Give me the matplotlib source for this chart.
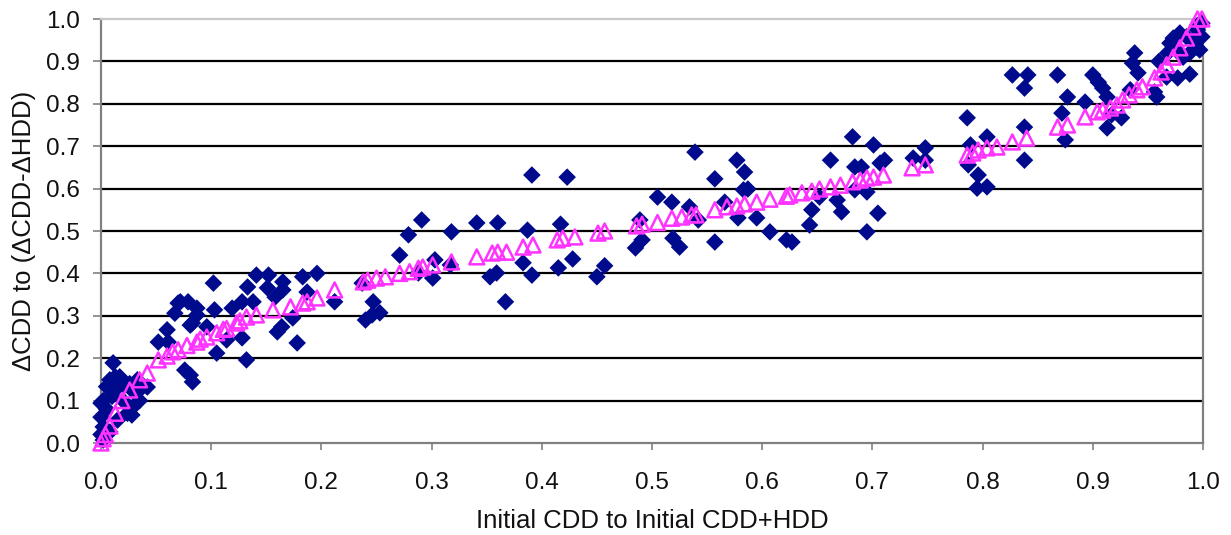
import matplotlib
matplotlib.use("Agg")
import matplotlib.pyplot as plt

# Diamonds (observed)
dia_x = [0.0, 0.002, 0.005, 0.008, 0.011, 0.013, 0.013, 0.017, 0.02, 0.026, 0.033, 0.035, 0.035, 0.029,
         0.024, 0.028, 0.015, 0.008, 0.002, 0.0, 0.002, 0.042, 0.0, 0.005, 0.01, 0.02, 0.03,
         0.052, 0.061, 0.06, 0.067, 0.07, 0.072, 0.079, 0.076, 0.081, 0.083, 0.087, 0.081, 0.083, 0.087,
         0.096, 0.102, 0.103, 0.105, 0.114, 0.119, 0.128, 0.128, 0.132, 0.133, 0.138, 0.141, 0.152, 0.151,
         0.158, 0.165, 0.165, 0.16, 0.164, 0.174, 0.178, 0.183, 0.196, 0.187, 0.212, 0.237, 0.24, 0.247,
         0.246, 0.253, 0.271, 0.279, 0.291, 0.288, 0.303, 0.301, 0.317, 0.318, 0.341, 0.36, 0.353, 0.359,
         0.367, 0.387, 0.383, 0.391, 0.391, 0.415, 0.417, 0.423, 0.428, 0.45, 0.457, 0.485, 0.491, 0.489,
         0.505, 0.518, 0.519, 0.525, 0.534, 0.539, 0.542, 0.557, 0.557, 0.566, 0.577, 0.584, 0.583, 0.587,
         0.578, 0.595, 0.607, 0.622, 0.627, 0.645, 0.643, 0.652, 0.662, 0.668, 0.672, 0.682, 0.684, 0.69,
         0.684, 0.695, 0.695, 0.701, 0.705, 0.707, 0.711, 0.737, 0.748, 0.748, 0.786, 0.787, 0.789, 0.796,
         0.795, 0.804, 0.804, 0.827, 0.841, 0.838, 0.838, 0.838, 0.868, 0.877, 0.872, 0.875, 0.893, 0.9,
         0.905, 0.909, 0.913, 0.913, 0.917, 0.926, 0.938, 0.936, 0.941, 0.934, 0.956, 0.958, 0.977, 0.967,
         0.97, 0.973, 0.979, 0.985, 0.991, 0.994, 0.997, 0.999, 0.995, 0.988, 0.982, 0.976, 0.968, 0.988,
         0.995, 0.999, 0.96]
dia_y = [0.094, 0.10, 0.133, 0.149, 0.189, 0.156, 0.125, 0.156, 0.14, 0.14, 0.149, 0.125, 0.10, 0.085,
         0.07, 0.066, 0.054, 0.026, 0.038, 0.061, 0.007, 0.132, 0.02, 0.08, 0.11, 0.10, 0.12,
         0.238, 0.238, 0.267, 0.306, 0.33, 0.333, 0.333, 0.172, 0.16, 0.144, 0.318, 0.278, 0.283, 0.302,
         0.274, 0.377, 0.314, 0.212, 0.243, 0.318, 0.248, 0.333, 0.196, 0.368, 0.333, 0.396, 0.396, 0.366,
         0.344, 0.38, 0.361, 0.262, 0.274, 0.295, 0.236, 0.392, 0.40, 0.356, 0.333, 0.377, 0.29, 0.333,
         0.302, 0.307, 0.443, 0.491, 0.526, 0.401, 0.432, 0.389, 0.42, 0.498, 0.519, 0.519, 0.392, 0.401,
         0.333, 0.502, 0.425, 0.396, 0.632, 0.413, 0.516, 0.627, 0.434, 0.392, 0.418, 0.46, 0.479, 0.526,
         0.58, 0.568, 0.483, 0.462, 0.557, 0.686, 0.526, 0.623, 0.474, 0.568, 0.667, 0.639, 0.597, 0.599,
         0.531, 0.531, 0.498, 0.479, 0.474, 0.55, 0.514, 0.58, 0.667, 0.573, 0.545, 0.722, 0.651, 0.651,
         0.597, 0.592, 0.498, 0.703, 0.542, 0.66, 0.667, 0.672, 0.696, 0.667, 0.767, 0.656, 0.703, 0.632,
         0.601, 0.722, 0.604, 0.868, 0.868, 0.837, 0.745, 0.667, 0.868, 0.816, 0.778, 0.715, 0.804, 0.868,
         0.851, 0.837, 0.816, 0.743, 0.774, 0.767, 0.92, 0.896, 0.873, 0.833, 0.828, 0.816, 0.861, 0.863,
         0.943, 0.955, 0.967, 0.958, 0.95, 0.934, 0.927, 0.958, 0.974, 0.92, 0.91, 0.927, 0.92, 0.87,
         0.985, 0.99, 0.90]

# Triangles (fitted)
tri_x = [0.0, 0.002, 0.004, 0.008, 0.013, 0.019, 0.026, 0.035, 0.042, 0.052, 0.06, 0.065, 0.07, 0.078,
         0.087, 0.09, 0.096, 0.105, 0.111, 0.114, 0.123, 0.126, 0.132, 0.141, 0.156, 0.172, 0.183, 0.187,
         0.196, 0.212, 0.238, 0.242, 0.25, 0.258, 0.271, 0.28, 0.288, 0.292, 0.301, 0.318, 0.341, 0.355,
         0.36, 0.368, 0.383, 0.392, 0.414, 0.419, 0.43, 0.451, 0.457, 0.486, 0.491, 0.505, 0.518, 0.527,
         0.536, 0.54, 0.557, 0.568, 0.577, 0.584, 0.595, 0.607, 0.622, 0.625, 0.636, 0.645, 0.652, 0.662,
         0.671, 0.682, 0.689, 0.695, 0.701, 0.71, 0.736, 0.748, 0.786, 0.791, 0.796, 0.804, 0.813, 0.827,
         0.84, 0.868, 0.877, 0.893, 0.904, 0.909, 0.916, 0.922, 0.927, 0.933, 0.94, 0.945, 0.956, 0.962,
         0.967, 0.973, 0.979, 0.985, 0.991, 0.995, 0.999]
tri_y = [0.0, 0.01, 0.02, 0.04, 0.07, 0.10, 0.125, 0.149, 0.165, 0.196, 0.205, 0.215, 0.22, 0.23,
         0.238, 0.245, 0.25, 0.26, 0.268, 0.27, 0.283, 0.288, 0.297, 0.302, 0.314, 0.321, 0.33, 0.333,
         0.342, 0.361, 0.38, 0.384, 0.389, 0.392, 0.40, 0.404, 0.412, 0.415, 0.42, 0.427, 0.439, 0.448,
         0.45, 0.45, 0.462, 0.467, 0.479, 0.483, 0.486, 0.495, 0.50, 0.512, 0.516, 0.52, 0.53, 0.533,
         0.538, 0.538, 0.55, 0.557, 0.559, 0.564, 0.568, 0.575, 0.582, 0.585, 0.59, 0.594, 0.599, 0.604,
         0.608, 0.616, 0.62, 0.625, 0.627, 0.632, 0.649, 0.656, 0.679, 0.684, 0.691, 0.696, 0.698, 0.71,
         0.719, 0.745, 0.75, 0.769, 0.781, 0.785, 0.79, 0.797, 0.809, 0.821, 0.833, 0.84, 0.861, 0.875,
         0.892, 0.91, 0.932, 0.955, 0.981, 1.0, 1.0]

x_ticks = [0.0, 0.1, 0.2, 0.3, 0.4, 0.5, 0.6, 0.7, 0.8, 0.9, 1.0]
y_ticks = [0.0, 0.1, 0.2, 0.3, 0.4, 0.5, 0.6, 0.7, 0.8, 0.9, 1.0]

plt.rcParams['font.family'] = ['Liberation Sans', 'DejaVu Sans']

fig = plt.figure(figsize=(12.31, 5.35), dpi=100)
ax = fig.add_axes([101/1231, 92/535, 1102/1231, 424/535])

ax.set_xlim(0, 1)
ax.set_ylim(0, 1)

for yv in y_ticks[1:-1]:
    ax.axhline(yv, color='black', lw=1.6, zorder=1)

ax.scatter(dia_x, dia_y, marker='D', s=80, color='#000A8C', edgecolors='none', zorder=3, clip_on=False)
ax.scatter(tri_x, tri_y, marker='^', s=115, facecolors='none', edgecolors='#FF33FF', linewidths=1.8,
           zorder=4, clip_on=False)

ax.set_xticks(x_ticks)
ax.set_yticks(y_ticks)
ax.set_xticklabels([f"{v:.1f}" for v in x_ticks], fontsize=17.5, color='#111111')
ax.set_yticklabels([f"{v:.1f}" for v in y_ticks], fontsize=17.5, color='#111111')
ax.tick_params(axis='y', direction='out', length=6, width=1.2, color='#808080', pad=9)
ax.tick_params(axis='x', direction='out', length=5, width=1.2, color='#808080', pad=16)

for side in ['left', 'bottom', 'right']:
    ax.spines[side].set_color('#808080')
    ax.spines[side].set_linewidth(1.6)
ax.spines['top'].set_color('#c8c8c8')
ax.spines['top'].set_linewidth(1.6)

ax.set_xlabel("Initial CDD to Initial CDD+HDD", fontsize=18.5, labelpad=11, color='#111111')
ax.set_ylabel("\u0394CDD to (\u0394CDD-\u0394HDD)", fontsize=18.5, labelpad=7, color='#111111')

fig.savefig("out.png", dpi=100)
